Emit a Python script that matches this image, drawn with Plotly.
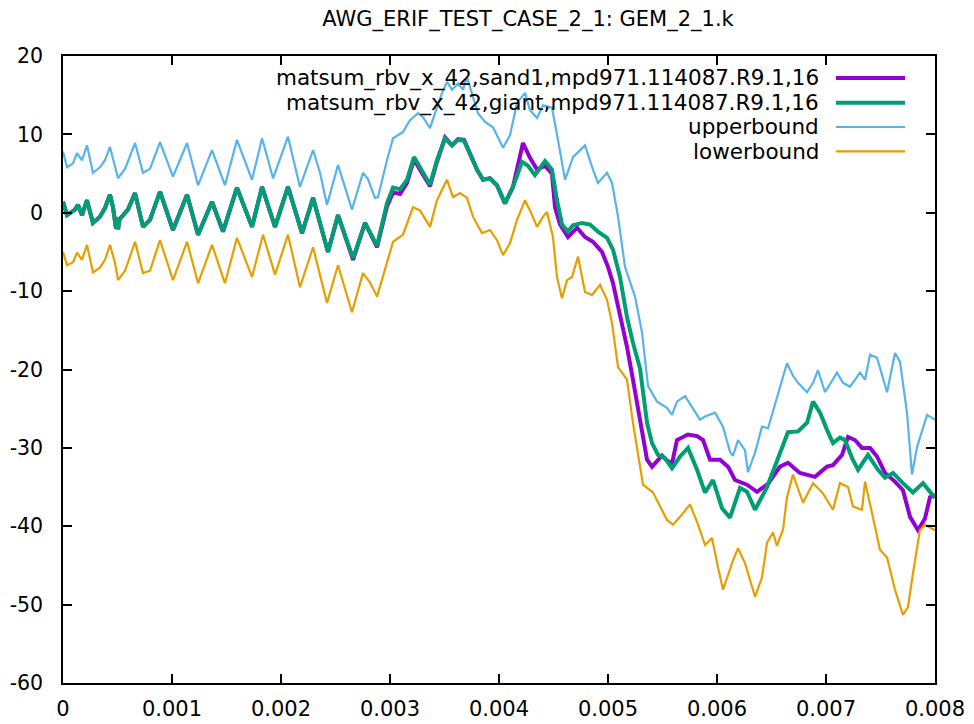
import plotly.graph_objects as go

# ---- data (time in ms) ----
sand1_t = [0.000, 0.037, 0.110, 0.138, 0.174, 0.220, 0.275, 0.339, 0.385, 0.431, 0.459, 0.486, 0.495,
           0.505, 0.520, 0.596, 0.661, 0.734, 0.798, 0.890, 1.009, 1.138, 1.239, 1.367, 1.468, 1.596,
           1.734, 1.826, 1.945, 2.064, 2.193, 2.294, 2.431, 2.523, 2.661, 2.771, 2.881, 2.972, 3.028,
           3.092, 3.156, 3.220, 3.275, 3.367, 3.431, 3.505, 3.569, 3.624, 3.679, 3.734, 3.798, 3.853,
           3.917, 3.982, 4.055, 4.128, 4.220, 4.284, 4.349, 4.422, 4.486, 4.514, 4.560, 4.633, 4.716,
           4.789, 4.862, 4.945, 5.000, 5.046, 5.110, 5.174, 5.229, 5.294, 5.358, 5.404, 5.459, 5.495,
           5.541, 5.587, 5.633, 5.734, 5.817, 5.872, 5.936, 6.028, 6.101, 6.165, 6.275, 6.367, 6.468,
           6.578, 6.651, 6.761, 6.899, 7.009, 7.064, 7.147, 7.202, 7.266, 7.330, 7.404, 7.468, 7.541,
           7.633, 7.706, 7.771, 7.844, 7.908, 7.954, 8.000]
sand1_v = [1.4, -0.3, 0.4, 1.0, -0.3, 1.6, -1.3, -0.5, 0.6, 2.3, 0.7, -2.0, -0.6,
           -2.1, -0.8, 0.4, 2.5, -1.8, -0.9, 2.7, -2.2, 2.3, -2.8, 1.4, -2.4, 3.2,
           -1.8, 3.3, -1.8, 3.3, -2.6, 1.9, -5.0, -0.3, -6.0, -1.3, -4.4, 0.8, 2.6,
           2.4, 3.8, 6.8, 5.5, 3.4, 6.5, 9.6, 8.6, 9.4, 9.3, 7.6, 5.5, 4.2,
           4.4, 3.5, 1.2, 3.3, 8.9, 7.0, 5.5, 6.0, 5.0, 0.7, -1.5, -3.1, -1.9,
           -3.1, -3.7, -5.0, -6.9, -9.0, -12.8, -17.1, -21.3, -26.4, -31.5, -32.4, -31.6, -31.0,
           -31.6, -32.0, -29.0, -28.3, -28.5, -29.0, -31.5, -31.5, -32.4, -34.1, -34.7, -35.6, -34.6,
           -32.4, -31.9, -33.2, -33.7, -32.4, -32.2, -30.9, -28.6, -29.0, -30.0, -30.0, -31.1, -33.2,
           -34.3, -35.4, -38.8, -40.5, -39.0, -36.3, -36.0]

giant_t = [0.000, 0.037, 0.110, 0.138, 0.174, 0.220, 0.275, 0.339, 0.385, 0.431, 0.459, 0.486, 0.495,
           0.505, 0.520, 0.596, 0.661, 0.734, 0.798, 0.890, 1.009, 1.138, 1.239, 1.367, 1.468, 1.596,
           1.734, 1.826, 1.945, 2.064, 2.193, 2.294, 2.431, 2.523, 2.661, 2.771, 2.881, 2.972, 3.028,
           3.092, 3.156, 3.220, 3.275, 3.367, 3.431, 3.505, 3.569, 3.624, 3.679, 3.734, 3.798, 3.853,
           3.917, 3.982, 4.055, 4.128, 4.211, 4.266, 4.330, 4.422, 4.486, 4.532, 4.578, 4.633, 4.679,
           4.761, 4.835, 4.908, 4.991, 5.046, 5.110, 5.174, 5.229, 5.294, 5.358, 5.404, 5.459, 5.523,
           5.587, 5.661, 5.734, 5.817, 5.890, 5.963, 6.046, 6.119, 6.211, 6.275, 6.349, 6.459, 6.550,
           6.651, 6.743, 6.826, 6.881, 6.945, 7.009, 7.064, 7.128, 7.174, 7.239, 7.294, 7.385, 7.477,
           7.541, 7.615, 7.706, 7.798, 7.890, 8.000]
giant_v = [1.4, -0.3, 0.4, 1.0, -0.3, 1.6, -1.3, -0.5, 0.6, 2.3, 0.7, -2.0, -0.6,
           -2.1, -0.8, 0.4, 2.5, -1.8, -0.9, 2.7, -2.2, 2.3, -2.8, 1.4, -2.4, 3.2,
           -1.8, 3.3, -1.8, 3.3, -2.6, 1.9, -5.0, -0.3, -5.8, -1.3, -4.2, 1.2, 3.2,
           3.0, 4.2, 7.1, 5.8, 3.6, 6.7, 9.5, 8.6, 9.3, 9.2, 7.6, 5.5, 4.2,
           4.4, 3.5, 1.2, 3.3, 6.5, 6.0, 4.8, 6.6, 5.5, 1.6, -1.5, -2.4, -1.6,
           -1.3, -1.5, -2.4, -3.2, -4.7, -8.2, -13.3, -16.6, -19.9, -26.8, -29.4, -30.9, -31.3,
           -32.6, -31.1, -30.0, -32.8, -35.7, -34.1, -37.7, -38.9, -35.1, -35.6, -37.9, -35.0, -31.8,
           -28.0, -27.9, -26.8, -24.1, -25.5, -27.7, -29.4, -28.7, -29.0, -31.3, -32.8, -30.9, -32.8,
           -33.8, -33.2, -34.5, -35.7, -34.5, -36.4]

upper_t = [0.000, 0.037, 0.092, 0.128, 0.174, 0.220, 0.275, 0.339, 0.385, 0.431, 0.477, 0.505, 0.569,
           0.661, 0.734, 0.798, 0.890, 1.009, 1.138, 1.239, 1.367, 1.486, 1.596, 1.734, 1.826, 1.927,
           2.064, 2.174, 2.294, 2.358, 2.422, 2.523, 2.651, 2.752, 2.798, 2.862, 2.890, 2.972, 3.028,
           3.119, 3.183, 3.257, 3.303, 3.367, 3.413, 3.477, 3.523, 3.569, 3.624, 3.670, 3.706, 3.752,
           3.807, 3.872, 3.945, 4.037, 4.101, 4.165, 4.239, 4.284, 4.349, 4.404, 4.486, 4.541, 4.606,
           4.679, 4.789, 4.862, 4.908, 4.991, 5.037, 5.092, 5.156, 5.248, 5.312, 5.367, 5.450, 5.541,
           5.587, 5.633, 5.706, 5.780, 5.844, 5.890, 5.982, 6.055, 6.119, 6.147, 6.193, 6.257, 6.284,
           6.349, 6.413, 6.468, 6.550, 6.642, 6.697, 6.743, 6.826, 6.881, 6.927, 6.991, 7.101, 7.156,
           7.220, 7.312, 7.358, 7.404, 7.468, 7.560, 7.633, 7.679, 7.743, 7.789, 7.835, 7.927, 8.000]
upper_v = [7.8, 5.8, 6.3, 7.6, 6.7, 8.6, 5.1, 5.8, 6.7, 8.4, 5.9, 4.4, 5.6,
           8.9, 5.1, 5.6, 9.0, 4.6, 8.9, 3.5, 8.0, 3.5, 9.3, 4.2, 9.5, 4.4,
           9.7, 3.3, 8.0, 5.1, 1.0, 6.1, 0.4, 5.1, 4.3, 1.9, 2.0, 6.7, 9.5,
           10.3, 11.8, 12.7, 12.2, 10.8, 12.7, 15.3, 16.7, 15.7, 16.5, 15.7, 17.3, 15.3,
           12.7, 11.6, 10.9, 8.3, 9.9, 14.0, 15.3, 13.1, 12.1, 13.7, 13.4, 9.3, 4.2,
           7.1, 8.6, 5.5, 3.8, 5.1, 3.8, -0.5, -6.9, -10.7, -15.3, -22.1, -24.1, -24.9,
           -25.8, -24.1, -23.4, -25.0, -26.4, -26.0, -25.5, -27.3, -30.5, -31.0, -29.0, -30.3, -33.1,
           -30.6, -27.3, -27.5, -23.5, -19.2, -20.8, -21.7, -22.9, -21.7, -20.1, -22.9, -20.4, -21.7,
           -22.2, -20.4, -21.3, -18.1, -18.5, -22.9, -17.9, -19.0, -25.5, -33.4, -29.9, -25.8, -26.4]

lower_t = [0.000, 0.037, 0.092, 0.128, 0.174, 0.220, 0.275, 0.339, 0.385, 0.431, 0.477, 0.505, 0.569,
           0.661, 0.734, 0.798, 0.890, 1.009, 1.138, 1.239, 1.367, 1.486, 1.596, 1.734, 1.835, 1.945,
           2.064, 2.174, 2.294, 2.422, 2.523, 2.651, 2.752, 2.817, 2.881, 2.972, 3.028, 3.119, 3.211,
           3.275, 3.367, 3.431, 3.523, 3.578, 3.642, 3.706, 3.761, 3.844, 3.917, 3.982, 4.037, 4.101,
           4.165, 4.239, 4.284, 4.349, 4.404, 4.440, 4.495, 4.532, 4.578, 4.624, 4.670, 4.725, 4.789,
           4.853, 4.927, 4.991, 5.037, 5.092, 5.174, 5.229, 5.294, 5.321, 5.413, 5.477, 5.541, 5.596,
           5.679, 5.752, 5.826, 5.890, 5.954, 6.009, 6.055, 6.138, 6.193, 6.257, 6.284, 6.349, 6.413,
           6.459, 6.514, 6.550, 6.606, 6.642, 6.697, 6.789, 6.881, 6.972, 7.064, 7.128, 7.202, 7.248,
           7.330, 7.358, 7.422, 7.495, 7.560, 7.633, 7.706, 7.752, 7.798, 7.862, 7.908, 8.000]
lower_v = [-5.0, -6.7, -6.3, -5.1, -6.0, -4.1, -7.6, -7.0, -6.0, -4.1, -6.4, -8.6, -7.4,
           -3.7, -7.7, -7.4, -3.5, -8.6, -3.7, -9.0, -4.1, -9.0, -3.2, -8.2, -2.8, -7.9,
           -2.8, -9.5, -4.4, -11.5, -6.7, -12.7, -7.7, -8.9, -10.7, -6.4, -3.7, -2.8, 0.7,
           0.3, -1.8, 1.6, 4.2, 2.0, 2.5, 1.9, -0.5, -2.6, -2.2, -3.5, -5.4, -3.9,
           -0.9, 1.6, 0.3, -1.8, -0.5, 0.1, -3.1, -8.2, -10.9, -8.6, -8.2, -5.6, -10.1,
           -10.5, -9.2, -11.1, -14.1, -19.7, -21.3, -26.8, -32.5, -34.7, -35.7, -37.5, -39.2, -39.8,
           -38.5, -37.2, -39.8, -42.4, -41.5, -45.2, -48.1, -44.7, -42.8, -44.7, -46.0, -49.0, -46.5,
           -42.1, -40.8, -42.5, -40.4, -36.3, -33.4, -37.0, -34.5, -35.8, -37.9, -34.5, -35.0, -37.5,
           -37.9, -34.3, -38.3, -43.0, -44.0, -48.1, -51.3, -50.3, -46.0, -40.5, -39.8, -40.5]

x_ticks = [0, 0.001, 0.002, 0.003, 0.004, 0.005, 0.006, 0.007, 0.008]
x_tick_text = ["0", "0.001", "0.002", "0.003", "0.004", "0.005", "0.006", "0.007", "0.008"]
y_ticks = [-60, -50, -40, -30, -20, -10, 0, 10, 20]
y_tick_text = ["-60", "-50", "-40", "-30", "-20", "-10", "0", "10", "20"]

names = ["matsum_rbv_x_42,sand1,mpd971.114087.R9.1,16",
         "matsum_rbv_x_42,giant,mpd971.114087.R9.1,16",
         "upperbound",
         "lowerbound"]
colors = ["#9400d3", "#009e73", "#56b4e9", "#e69f00"]
widths = [4, 4, 2.2, 2.2]
MS = 1e-3  # ms -> s

series = [(sand1_t, sand1_v), (giant_t, giant_v), (upper_t, upper_v), (lower_t, lower_v)]

# the page body has an 8px default margin, so the figure is drawn 8px in from the window edge
W, H = 966, 716
FONT = "DejaVu Sans"
fig = go.Figure()
for (t, v), name, c, w in zip(series, names, colors, widths):
    fig.add_trace(go.Scatter(x=[ti * MS for ti in t], y=v, mode="lines", name=name,
                             line=dict(color=c, width=w), showlegend=False))

# gnuplot-style legend: right-aligned text, sample line on the right
row_y = [0.9649, 0.9255, 0.8868, 0.8480]
for name, c, w, yy in zip(names, colors, widths, row_y):
    fig.add_annotation(x=0.8693, y=yy, xref="paper", yref="paper", text=name,
                       showarrow=False, xanchor="right", yanchor="middle",
                       font=dict(family=FONT, size=21.5, color="black"))
    fig.add_shape(type="line", xref="paper", yref="paper", x0=0.8865, x1=0.9656,
                  y0=yy, y1=yy, line=dict(color=c, width=w))

fig.update_layout(
    width=W, height=H,
    margin=dict(l=55, r=39, t=48, b=41, autoexpand=False),
    paper_bgcolor="white", plot_bgcolor="white",
    font=dict(family=FONT, size=21, color="black"),
    title=dict(text="AWG_ERIF_TEST_CASE_2_1: GEM_2_1.k", x=520 / W, xanchor="center",
               y=1 - 11 / H, yanchor="middle", font=dict(family=FONT, size=21, color="black")),
    showlegend=False,
)
fig.update_xaxes(range=[0, 0.008], tickmode="array", tickvals=x_ticks, ticktext=x_tick_text,
                 automargin=False,
                 showgrid=False, zeroline=False, showline=True, linecolor="black", linewidth=1.5,
                 mirror="ticks", ticks="inside", ticklen=9, tickwidth=1.5, tickcolor="black",
                 ticklabelstandoff=6, tickfont=dict(family=FONT, size=21))
fig.update_yaxes(range=[-60, 20], tickmode="array", tickvals=y_ticks, ticktext=y_tick_text,
                 automargin=False,
                 showgrid=False, zeroline=False, showline=True, linecolor="black", linewidth=1.5,
                 mirror="ticks", ticks="inside", ticklen=9, tickwidth=1.5, tickcolor="black",
                 ticklabelstandoff=14, tickfont=dict(family=FONT, size=20.5))

fig.write_html("out.html")
